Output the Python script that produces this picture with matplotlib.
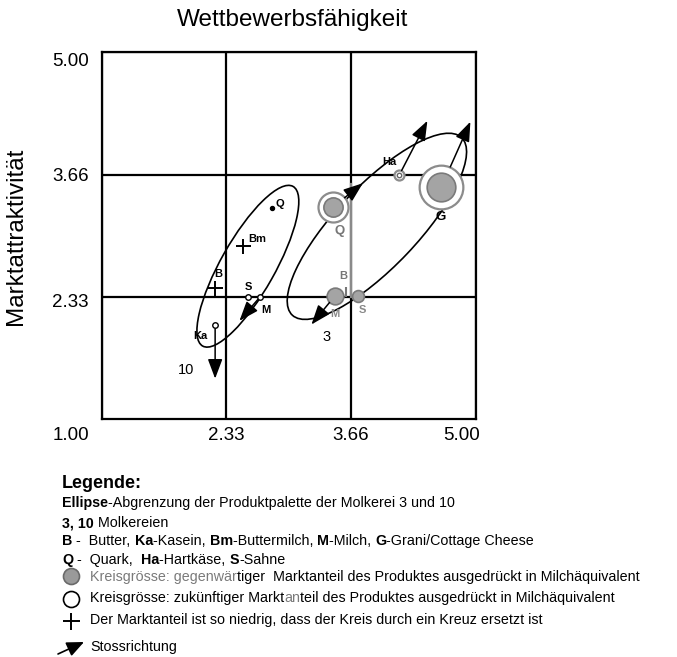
import matplotlib
matplotlib.use("Agg")
import matplotlib.pyplot as plt
from matplotlib.patches import Ellipse
from matplotlib.transforms import ScaledTranslation
import numpy as np

FONT = ["Liberation Sans", "DejaVu Sans"]
plt.rcParams["font.family"] = FONT

W, H = 677, 657

# ---------------- data ----------------
title = "Wettbewerbsfähigkeit"
ylabel = "Marktattraktivität"
x_ticks = [1.00, 2.33, 3.66, 5.00]
x_ticklabels = ["1.00", "2.33", "3.66", "5.00"]
y_ticks = [2.33, 3.66, 5.00]
y_ticklabels = ["2.33", "3.66", "5.00"]

# Molkerei 10 (small market shares: dots, crosses, tiny circles)
m10_products = ["Q", "Bm", "B", "S", "M", "Ka"]
m10_x = [2.82, 2.51, 2.21, 2.56, 2.69, 2.21]
m10_y = [3.30, 2.89, 2.43, 2.33, 2.33, 2.02]
m10_kind = ["dot", "cross", "cross", "circle", "circle", "circle"]
m10_label_x = [2.90, 2.66, 2.24, 2.57, 2.75, 2.05]
m10_label_y = [3.34, 2.96, 2.58, 2.44, 2.19, 1.91]
m10_arrow_products = ["M", "Ka"]
m10_arrow_to_x = [2.47, 2.21]
m10_arrow_to_y = [2.07, 1.44]
m10_ellipse = dict(cx=2.56, cy=2.665, major=1.99, minor=0.58, angle=61)

# Molkerei 3 (current / future market share, relative units)
m3_products = ["Q", "G", "Ha", "M", "S", "B"]
m3_x = [3.47, 4.63, 4.18, 3.49, 3.74, 3.61]
m3_y = [3.31, 3.53, 3.66, 2.34, 2.34, 2.38]
m3_share_now = [3.7, 8.2, 0.2, 2.8, 1.4, 0.0]
m3_share_future = [9.0, 19.1, 1.0, 0.0, 0.0, 0.0]
m3_label_x = [3.54, 4.62, 4.07, 3.49, 3.78, 3.58]
m3_label_y = [3.05, 3.20, 3.80, 2.14, 2.19, 2.56]
m3_label_color = ["#777777", "black", "black", "#888888", "#888888", "#777777"]
m3_arrow_products = ["Q", "G", "Ha", "M"]
m3_arrow_to_x = [3.79, 4.94, 4.48, 3.24]
m3_arrow_to_y = [3.57, 4.24, 4.25, 2.03]
m3_ellipse = dict(cx=3.94, cy=3.10, major=2.65, minor=0.88, angle=47)

molkerei_labels = ["10", "3"]
molkerei_label_x = [1.90, 3.40]
molkerei_label_y = [1.53, 1.89]

# ---------------- figure ----------------
fig = plt.figure(figsize=(W / 100, H / 100), dpi=100)
ax = fig.add_axes([102 / W, 1 - 419 / H, (476 - 102) / W, (419 - 52) / H])
ax.set_xlim(1, 5)
ax.set_ylim(1, 5)
for s in ax.spines.values():
    s.set_linewidth(1.6)
ax.set_xticks(x_ticks)
ax.set_xticklabels(x_ticklabels)
ax.set_yticks(y_ticks)
ax.set_yticklabels(y_ticklabels)
ax.tick_params(length=0, labelsize=13.5, colors="black")
ax.tick_params(axis="x", pad=5.5)
ax.tick_params(axis="y", pad=9.5)
ax.grid(True, color="black", lw=1.6, zorder=1)
ax.set_axisbelow(True)

# tick label offsets (as in the reference)
xl = ax.get_xticklabels()
xl[0].set_transform(xl[0].get_transform() + ScaledTranslation(-0.31, 0, fig.dpi_scale_trans))
xl[-1].set_transform(xl[-1].get_transform() + ScaledTranslation(-0.14, 0, fig.dpi_scale_trans))
yl = ax.get_yticklabels()
yl[-1].set_transform(yl[-1].get_transform() + ScaledTranslation(0, -0.08, fig.dpi_scale_trans))
yl[0].set_transform(yl[0].get_transform() + ScaledTranslation(0, -0.04, fig.dpi_scale_trans))

fig.text(293 / W, 1 - 20 / H, title, ha="center", va="center", fontsize=17.5)
fig.text(16 / W, 1 - 236 / H, ylabel, ha="center", va="center", rotation=90, fontsize=17.5)

PX = 0.72  # points per pixel at dpi 100

# gray guide line on the 3.66 line (Molkerei 3)
ax.plot([3.66, 3.66], [2.33, 3.56], color="#8a8a8a", lw=1.6, zorder=2)

# ellipses
for e in (m10_ellipse, m3_ellipse):
    ax.add_patch(Ellipse((e["cx"], e["cy"]), e["major"], e["minor"], angle=e["angle"],
                         fill=False, ec="black", lw=1.2, zorder=3))

arrowprops = dict(arrowstyle="-|>,head_length=0.8,head_width=0.3", mutation_scale=15,
                  color="black", lw=1.1)

# Molkerei 10 markers
for p, x, y, k in zip(m10_products, m10_x, m10_y, m10_kind):
    if k == "dot":
        ax.plot(x, y, "o", ms=4 * PX, color="black", zorder=5)
    elif k == "cross":
        ax.plot(x, y, "+", ms=15 * PX, mew=1.4, color="black", zorder=5)
    else:
        ax.plot(x, y, "o", ms=5.5 * PX, mfc="white", mec="black", mew=1.0, zorder=5)
for p, lx, ly in zip(m10_products, m10_label_x, m10_label_y):
    ax.text(lx, ly, p, ha="center", va="center", fontsize=8, fontweight="bold", zorder=6)
for p, tx, ty in zip(m10_arrow_products, m10_arrow_to_x, m10_arrow_to_y):
    i = m10_products.index(p)
    ax.annotate("", xy=(tx, ty), xytext=(m10_x[i], m10_y[i]),
                arrowprops=dict(arrowprops, shrinkA=2.5, shrinkB=0), zorder=6)

# Molkerei 3 markers
for p, x, y, now, fut in zip(m3_products, m3_x, m3_y, m3_share_now, m3_share_future):
    if fut > 0:
        d = 10 * np.sqrt(fut) * PX
        ax.scatter([x], [y], s=d ** 2, facecolor="white", edgecolor="#8c8c8c", lw=1.6, zorder=4)
    if p == "Ha":
        d = 10 * np.sqrt(now) * PX
        ax.scatter([x], [y], s=d ** 2, facecolor="white", edgecolor="#666666", lw=1.0, zorder=5)
    elif now > 0:
        d = 10 * np.sqrt(now) * PX
        ax.scatter([x], [y], s=d ** 2, facecolor="#a4a4a4", edgecolor="#7a7a7a", lw=1.2, zorder=5)
    else:
        ax.plot(x, y, "|", ms=10 * PX, mew=1.5, color="#777777", zorder=5)
for p, lx, ly, c in zip(m3_products, m3_label_x, m3_label_y, m3_label_color):
    fs = 9.5 if p in ("Q", "G") else 8
    ax.text(lx, ly, p, ha="center", va="center", fontsize=fs, fontweight="bold", color=c, zorder=6)
for p, tx, ty in zip(m3_arrow_products, m3_arrow_to_x, m3_arrow_to_y):
    i = m3_products.index(p)
    r = 10 * np.sqrt(max(m3_share_future[i], m3_share_now[i])) / 2 * PX
    ax.annotate("", xy=(tx, ty), xytext=(m3_x[i], m3_y[i]),
                arrowprops=dict(arrowprops, shrinkA=r, shrinkB=0), zorder=6)

for t, x, y in zip(molkerei_labels, molkerei_label_x, molkerei_label_y):
    ax.text(x, y, t, ha="center", va="center", fontsize=10.5, zorder=6)

# ---------------- legend (pixel overlay) ----------------
ov = fig.add_axes([0, 0, 1, 1])
ov.set_xlim(0, W)
ov.set_ylim(H, 0)
ov.axis("off")
ov.patch.set_visible(False)

renderer = fig.canvas.get_renderer()


def text_width(s, **kw):
    a = ov.text(0, 0, s + "|", **kw)
    b = ov.text(0, 0, "|", **kw)
    w = a.get_window_extent(renderer).width - b.get_window_extent(renderer).width
    a.remove()
    b.remove()
    return w


def rich(x, y, parts, size=10.3):
    for txt, bold, color in parts:
        kw = dict(fontsize=size, fontweight="bold" if bold else "normal")
        ov.text(x, y, txt, ha="left", va="center", color=color, **kw)
        x += text_width(txt, **kw)


K = "black"
G = "#7a7a7a"
X0 = 62
X1 = 90
rich(X0, 483, [("Legende:", True, K)], size=13)
rich(X0, 503, [("Ellipse", True, K), ("-Abgrenzung der Produktpalette der Molkerei 3 und 10", False, K)])
rich(X0, 523, [("3, 10", True, K), (" Molkereien", False, K)])
rich(X0, 541, [("B", True, K), (" -  Butter, ", False, K), ("Ka", True, K), ("-Kasein, ", False, K),
               ("Bm", True, K), ("-Buttermilch, ", False, K), ("M", True, K), ("-Milch, ", False, K),
               ("G", True, K), ("-Grani/Cottage Cheese", False, K)])
rich(X0, 560, [("Q", True, K), (" -  Quark,  ", False, K), ("Ha", True, K), ("-Hartkäse, ", False, K),
               ("S", True, K), ("-Sahne", False, K)])
rich(X1, 577, [("Kreisgrösse: gegenwär", False, G),
               ("tiger  Marktanteil des Produktes ausgedrückt in Milchäquivalent", False, K)])
rich(X1, 598, [("Kreisgrösse: zukünftiger Markt", False, K), ("an", False, G),
               ("teil des Produktes ausgedrückt in Milchäquivalent", False, K)])
rich(X1, 620, [("Der Marktanteil ist so niedrig, dass der Kreis durch ein Kreuz ersetzt ist", False, K)])
rich(X1, 647, [("Stossrichtung", False, K)])

ov.scatter([71], [576], s=(16 * PX) ** 2, facecolor="#9a9a9a", edgecolor="#6a6a6a", lw=1.2)
ov.scatter([71], [599], s=(16 * PX) ** 2, facecolor="white", edgecolor="black", lw=1.2)
ov.plot([71], [621], "+", ms=17 * PX, mew=1.4, color="black")
ov.annotate("", xy=(84, 642), xytext=(58, 654),
            arrowprops=dict(arrowstyle="-|>,head_length=0.8,head_width=0.35", mutation_scale=13,
                            color="black", lw=1.2, shrinkA=0, shrinkB=0))

fig.savefig("out.png", dpi=100)
